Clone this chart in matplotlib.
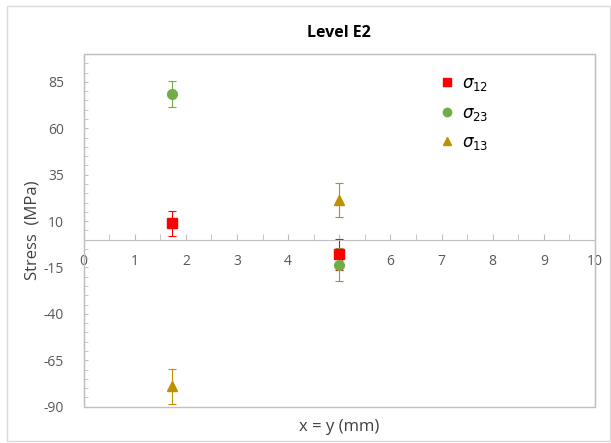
import matplotlib.pyplot as plt
from matplotlib.patches import Rectangle
from matplotlib.lines import Line2D
from matplotlib.ticker import MultipleLocator

# ---- data ----
x_pos = [1.73, 5.0]
s12 = [8.7, -8.0]
s12_err = [7.0, 8.5]
s23 = [78.6, -13.4]
s23_err = [7.0, 9.0]
s13 = [-79.0, 21.4]
s13_err = [9.5, 9.0]

series = [
    (s12, s12_err, 's', '#FF0000', r'$\sigma_{12}$'),
    (s23, s23_err, 'o', '#70AD47', r'$\sigma_{23}$'),
    (s13, s13_err, '^', '#BF9000', r'$\sigma_{13}$'),
]

plt.rcParams['font.family'] = ['Open Sans', 'DejaVu Sans']
plt.rcParams['axes.unicode_minus'] = False

fig = plt.figure(figsize=(6.11, 4.43), dpi=100)
# borde exterior del grafico
fig.patches.append(Rectangle((7 / 611, 2 / 443), 603 / 611, 435 / 443,
                             transform=fig.transFigure, fill=False,
                             edgecolor='#D9D9D9', lw=1))
ax = fig.add_axes([0.1367, 0.082, 0.8371, 0.796])

handles = []
for vals, errs, mk, col, lab in series:
    ax.errorbar(x_pos, vals, yerr=errs, fmt=mk, color=col, ms=7,
                ecolor=col, elinewidth=0.8, capsize=3, capthick=0.8)
    handles.append(Line2D([], [], ls='none', marker=mk, color=col, ms=6,
                          label=lab))

ax.set_xlim(0, 10)
ax.set_ylim(-90, 100)
ax.set_yticks([-90, -65, -40, -15, 10, 35, 60, 85])
ax.yaxis.set_minor_locator(MultipleLocator(5))
ax.set_xticks(range(0, 11))
ax.xaxis.set_minor_locator(MultipleLocator(0.5))

for s in ['top', 'right', 'left']:
    ax.spines[s].set_color('#BFBFBF')
ax.spines['bottom'].set_position(('data', 0))
ax.spines['bottom'].set_color('#BFBFBF')
ax.add_patch(Rectangle((0, 0), 1, 1, transform=ax.transAxes, fill=False,
                       edgecolor='#BFBFBF', lw=1, clip_on=False))

ax.tick_params(axis='x', which='both', direction='in', length=4,
               color='#BFBFBF', labelsize=10, labelcolor='#595959', pad=10)
ax.tick_params(axis='y', which='both', direction='in', length=3,
               color='#BFBFBF', labelsize=10, labelcolor='#595959', pad=14)

ax.set_title('Level E2', fontsize=11.5, fontweight='bold', pad=12)
ax.set_ylabel('Stress  (MPa)', fontsize=12, color='#404040', labelpad=2)
ax.set_xlabel('x = y (mm)', fontsize=12, color='#404040')
ax.xaxis.set_label_coords(0.5, -0.035)

ax.legend(handles=handles, loc='upper left', bbox_to_anchor=(0.665, 0.98),
          frameon=False, fontsize=12, handletextpad=0.4, labelspacing=0.75,
          handlelength=1.0)

fig.savefig('out.png', dpi=100)
